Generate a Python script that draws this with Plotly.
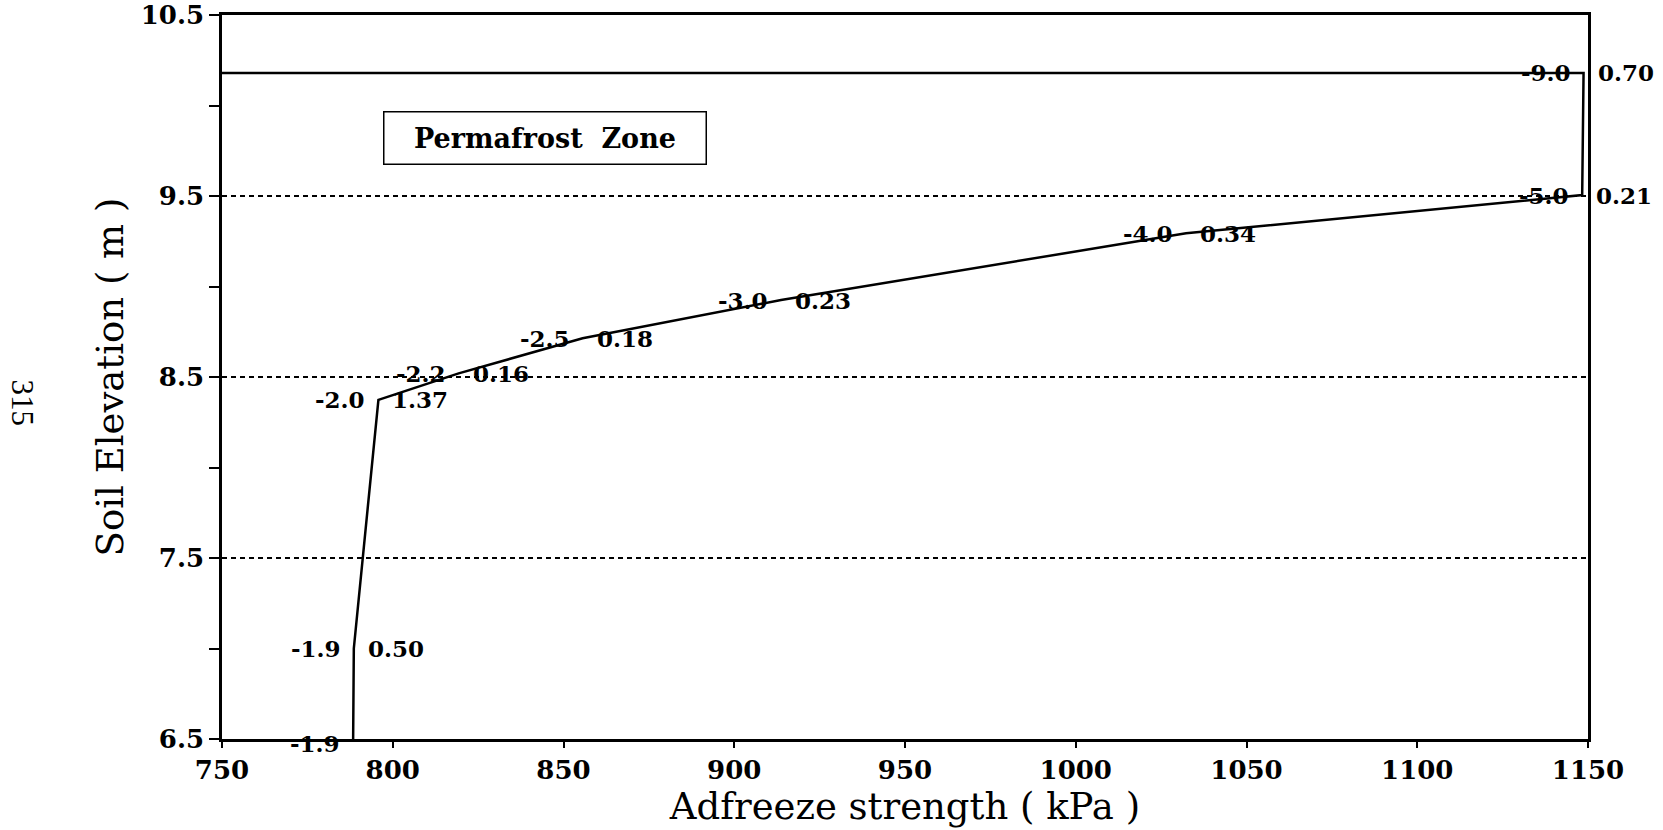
import plotly.graph_objects as go

# ---- data ----
adfreeze_kpa = [788.4, 788.6, 795.8, 819.3, 855.6, 913.7, 1032.3, 1148.3, 1148.7, 750.0]
elevation_m = [6.5, 7.0, 8.374, 8.52, 8.714, 8.925, 9.294, 9.505, 10.18, 10.18]
temp_labels = ['-1.9', '-1.9', '-2.0', '-2.2', '-2.5', '-3.0', '-4.0', '-5.0', '-9.0', '']
value_labels = ['', '0.50', '1.37', '0.16', '0.18', '0.23', '0.34', '0.21', '0.70', '']

x_tickvals = [750, 800, 850, 900, 950, 1000, 1050, 1100, 1150]
x_ticktext = ['750', '800', '850', '900', '950', '1000', '1050', '1100', '1150']
y_tickvals = [6.5, 7.5, 8.5, 9.5, 10.5]
y_ticktext = ['6.5', '7.5', '8.5', '9.5', '10.5']
y_minor_tickvals = [7.0, 8.0, 9.0, 10.0]

zone_label = 'Permafrost  Zone'
zone_pos = (844.7, 9.823)
page_number = '315'

SERIF = 'DejaVu Serif'
lab_font = dict(family=SERIF, size=23, color='black', weight='bold')

fig = go.Figure()
fig.add_trace(go.Scatter(
    x=adfreeze_kpa, y=elevation_m, mode='lines',
    line=dict(color='black', width=2.5), showlegend=False, hoverinfo='skip'))

annotations = []
for xv, yv, t, v in zip(adfreeze_kpa, elevation_m, temp_labels, value_labels):
    ys = -4 if yv <= 6.5 else 0
    if t:
        annotations.append(dict(x=xv, y=yv, xref='x', yref='y', text=t, showarrow=False,
                                xanchor='right', yanchor='middle', xshift=-11, yshift=ys,
                                font=lab_font))
    if v:
        annotations.append(dict(x=xv, y=yv, xref='x', yref='y', text=v, showarrow=False,
                                xanchor='left', yanchor='middle', xshift=12, yshift=ys,
                                font=lab_font))

annotations.append(dict(x=zone_pos[0], y=zone_pos[1], xref='x', yref='y', text=zone_label,
                        showarrow=False, xanchor='center', yanchor='middle',
                        width=313, height=43, borderpad=4, bordercolor='black', borderwidth=1.5,
                        font=dict(family=SERIF, size=27, color='black', weight='bold')))

annotations.append(dict(x=-0.146, y=0.464, xref='paper', yref='paper', text=page_number,
                        showarrow=False, textangle=90, xanchor='center', yanchor='middle',
                        font=dict(family='Liberation Serif', size=31, color='black')))

fig.update_layout(
    width=1663, height=830,
    margin=dict(l=222, r=75, t=15, b=91),
    paper_bgcolor='white', plot_bgcolor='white',
    annotations=annotations,
    xaxis=dict(range=[750, 1150], tickvals=x_tickvals, ticktext=x_ticktext,
               ticks='outside', ticklen=6, tickwidth=2, tickcolor='black',
               showline=True, linecolor='black', linewidth=2.5, mirror=True,
               showgrid=False, zeroline=False, automargin=False,
               ticklabeloverflow='allow',
               tickfont=dict(family=SERIF, size=26, color='black', weight='bold'),
               title=dict(text='Adfreeze strength ( kPa )', standoff=10,
                          font=dict(family=SERIF, size=37, color='black'))),
    yaxis=dict(range=[6.5, 10.5], tickvals=y_tickvals, ticktext=y_ticktext,
               ticks='outside', ticklen=10, tickwidth=2, tickcolor='black',
               minor=dict(tickvals=y_minor_tickvals, ticks='outside', ticklen=10,
                          tickwidth=2, tickcolor='black', showgrid=False),
               showline=True, linecolor='black', linewidth=2.5, mirror=True,
               showgrid=True, gridcolor='black', gridwidth=1.5, griddash='5px,4px',
               zeroline=False, automargin=False,
               ticklabeloverflow='allow',
               tickfont=dict(family=SERIF, size=26, color='black', weight='bold'),
               title=dict(text='Soil Elevation ( m )', standoff=6,
                          font=dict(family=SERIF, size=37, color='black'))),
)

# remove the page's default 8px body margin so the figure fills the window exactly
fig.write_html('out.html', config={'displayModeBar': False},
               post_script="document.body.style.margin='0px';")
